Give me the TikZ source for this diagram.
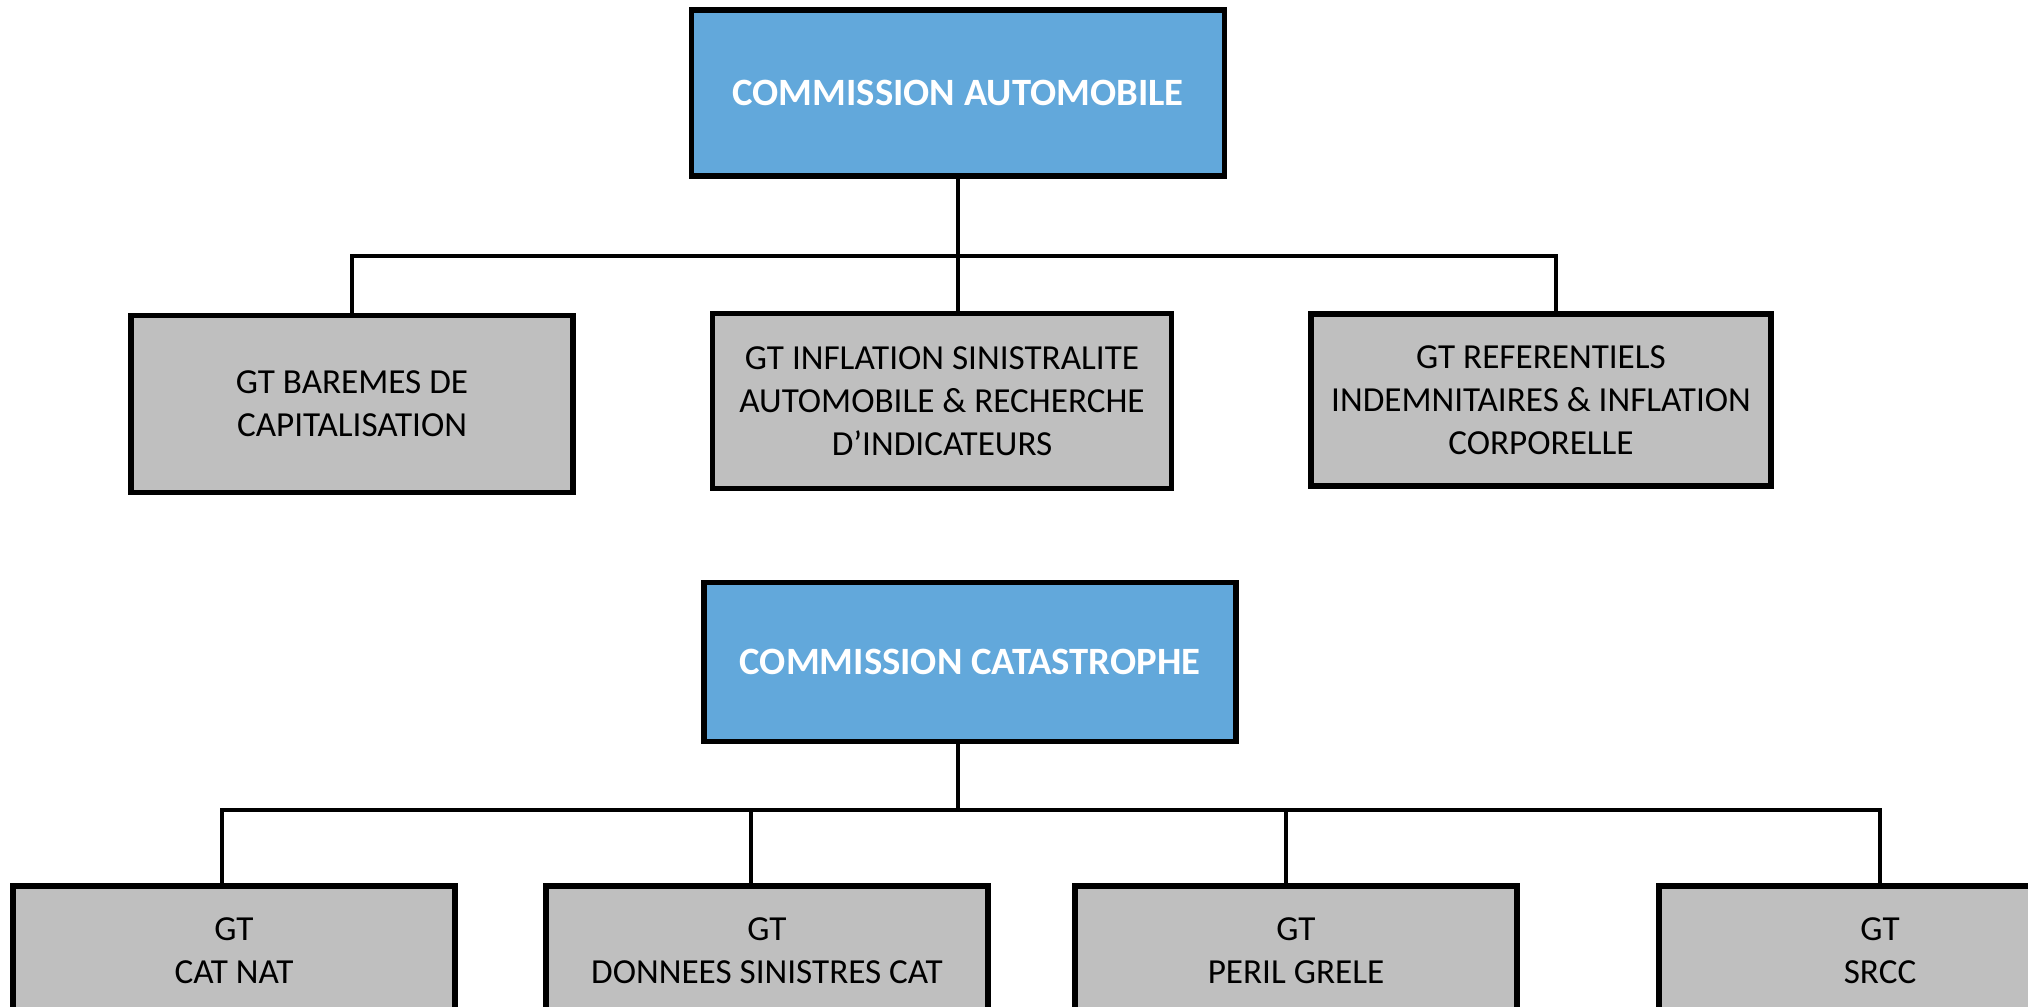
\documentclass[tikz,border=0pt]{standalone}
\usepackage{fontspec}
\setmainfont{Carlito}
\definecolor{commblue}{RGB}{98,168,219}
\definecolor{gtgray}{RGB}{191,191,191}

\begin{document}
\begin{tikzpicture}[x=0.01cm,y=-0.01cm,
  comm/.style={draw=black,line width=1.6pt,fill=commblue,text=white,
    font=\bfseries\fontsize{11}{13}\selectfont,inner sep=0pt},
  gt/.style={draw=black,line width=1.6pt,fill=gtgray,align=center,
    font=\fontsize{10}{12.2}\selectfont,inner sep=0pt},
  link/.style={line width=1.2pt}]
\useasboundingbox (0,0) rectangle (2028,1006);
\clip (0,0) rectangle (2028,1006);

% commission automobile
\node[comm,minimum width=5.33cm,minimum height=1.66cm] (auto) at (958,93) {COMMISSION AUTOMOBILE};
\node[gt,minimum width=4.42cm,minimum height=1.77cm] (bareme) at (352,404) {GT BAREMES DE\\CAPITALISATION};
\node[gt,minimum width=4.59cm,minimum height=1.75cm] (inflation) at (942,401) {GT INFLATION SINISTRALITE\\AUTOMOBILE \& RECHERCHE\\D’INDICATEURS};
\node[gt,minimum width=4.60cm,minimum height=1.72cm] (referentiel) at (1541,400) {GT REFERENTIELS\\INDEMNITAIRES \& INFLATION\\CORPORELLE};

\coordinate (busauto) at (0,256);
\draw[link] (auto.south) -- (auto.south |- inflation.north);
\draw[link] (bareme.north) |- ([xshift=0.15cm]referentiel.north |- busauto) -- ([xshift=0.15cm]referentiel.north);

% commission catastrophe
\node[comm,minimum width=5.32cm,minimum height=1.59cm] (cata) at (970,662) {COMMISSION CATASTROPHE};
\node[gt,minimum width=4.42cm,minimum height=1.30cm] (catnat) at (234,951) {GT\\CAT NAT};
\node[gt,minimum width=4.42cm,minimum height=1.30cm] (donnees) at (767,951) {GT\\DONNEES SINISTRES CAT};
\node[gt,minimum width=4.42cm,minimum height=1.30cm] (grele) at (1296,951) {GT\\PERIL GRELE};
\node[gt,minimum width=4.42cm,minimum height=1.30cm] (srcc) at (1880,951) {GT\\SRCC};

\coordinate (buscata) at (0,810);
\draw[link] ([xshift=-0.12cm]cata.south) -- ([xshift=-0.12cm]cata.south |- buscata);
\draw[link] ([xshift=-0.12cm]catnat.north) |- (srcc.north |- buscata) -- (srcc.north);
\draw[link] ([xshift=-0.16cm]donnees.north) -- ([xshift=-0.16cm]donnees.north |- buscata);
\draw[link] ([xshift=-0.10cm]grele.north) -- ([xshift=-0.10cm]grele.north |- buscata);
\end{tikzpicture}
\end{document}
